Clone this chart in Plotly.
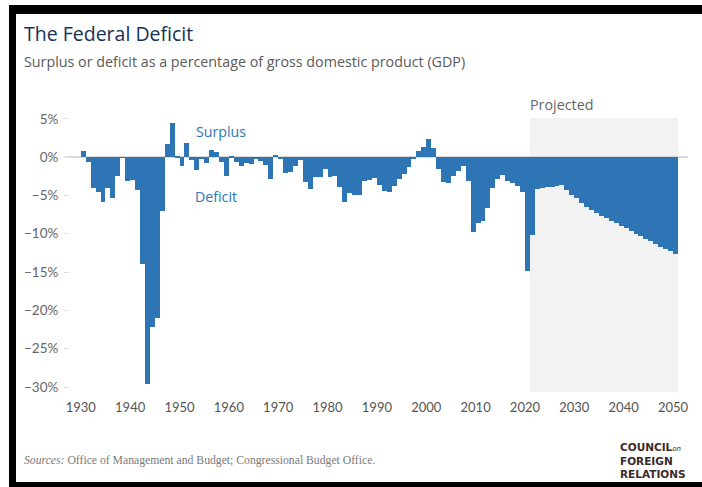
import plotly.graph_objects as go

# ---- data ----
hist_years = list(range(1930, 2021))
hist_values = [
    0.8, -0.6, -4.0, -4.5, -5.8, -4.0, -5.4, -2.5, -0.1, -3.1,   # 1930-1939
    -3.0, -4.3, -13.9, -29.6, -22.2, -21.0, -7.0, 1.7, 4.5, 0.2,  # 1940-1949
    -1.1, 1.9, -0.4, -1.7, -0.3, -0.8, 0.9, 0.7, -0.6, -2.5,      # 1950-1959
    0.1, -0.6, -1.2, -0.8, -0.9, -0.2, -0.5, -1.0, -2.8, 0.3,     # 1960-1969
    -0.3, -2.1, -1.9, -1.1, -0.4, -3.3, -4.1, -2.6, -2.6, -1.6,   # 1970-1979
    -2.6, -2.5, -3.9, -5.9, -4.7, -5.0, -4.9, -3.1, -3.0, -2.7,   # 1980-1989
    -3.7, -4.4, -4.5, -3.8, -2.8, -2.2, -1.3, -0.3, 0.8, 1.3,     # 1990-1999
    2.3, 1.2, -1.5, -3.3, -3.4, -2.5, -1.8, -1.1, -3.1, -9.8,     # 2000-2009
    -8.6, -8.3, -6.6, -4.0, -2.8, -2.4, -3.1, -3.4, -3.8, -4.6,   # 2010-2019
    -14.9,                                                        # 2020
]
proj_years = list(range(2021, 2051))
proj_values = [
    -10.2, -4.2, -4.0, -3.9, -3.9, -3.8, -3.7, -4.3, -4.9, -5.4,
    -6.0, -6.5, -6.9, -7.3, -7.7, -8.0, -8.3, -8.6, -9.0, -9.3,
    -9.6, -10.0, -10.3, -10.7, -11.0, -11.4, -11.7, -12.0, -12.3, -12.7,
]
x_ticks = list(range(1930, 2051, 10))
y_ticks = [5, 0, -5, -10, -15, -20, -25, -30]
y_tick_labels = ["5%", "0%", "\u22125%", "\u221210%", "\u221215%", "\u221220%", "\u221225%", "\u221230%"]

years = hist_years + proj_years
values = hist_values + proj_values

# ---- layout geometry (pixels) ----
W, H = 702, 487
L, R, T, B = 70, 14, 118, 95
PW, PH = W - L - R, H - T - B


def px(x):
    return (x - L) / PW


def py(y):
    return (H - B - y) / PH


BLUE = "#2e75b6"
FONT = "Lato"
FONT2 = "Open Sans"

fig = go.Figure()
fig.add_trace(go.Bar(
    x=years, y=values, width=1, offset=0,
    marker=dict(color=BLUE, line=dict(width=0)),
    hoverinfo="x+y", showlegend=False,
))

shapes = [
    # projected shading
    dict(type="rect", xref="x", yref="paper", x0=2021, x1=2051, y0=0, y1=1,
         fillcolor="#f2f2f2", line=dict(width=0), layer="below"),
    # zero line
    dict(type="line", xref="paper", yref="y", x0=px(65), x1=px(688), y0=0, y1=0,
         line=dict(color="#cfcfcf", width=1.5), layer="below"),
    # black frame
    dict(type="rect", xref="paper", yref="paper", x0=px(9), x1=px(W), y0=py(14), y1=py(5),
         fillcolor="black", line=dict(width=0), layer="above"),
    dict(type="rect", xref="paper", yref="paper", x0=px(9), x1=px(16), y0=py(H), y1=py(5),
         fillcolor="black", line=dict(width=0), layer="above"),
    dict(type="rect", xref="paper", yref="paper", x0=px(9), x1=px(W), y0=py(H), y1=py(482),
         fillcolor="black", line=dict(width=0), layer="above"),
]

ann = []


def add_text(text, x, y, size, color, family=FONT2, xanchor="left", align="left"):
    ann.append(dict(text=text, x=px(x), y=py(y), xref="paper", yref="paper",
                    xanchor=xanchor, yanchor="middle", showarrow=False, align=align,
                    font=dict(size=size, color=color, family=family)))


add_text("The Federal Deficit", 22, 34, 19.5, "#17305a")
add_text("Surplus or deficit as a percentage of gross domestic product (GDP)", 22, 61, 14.3, "#5a5a5a")
add_text("Projected", 528, 105, 14.3, "#666666")
add_text("Surplus", 194, 131, 14.2, BLUE)
add_text("Deficit", 193, 196, 14.2, BLUE)
add_text("<i>Sources:</i> Office of Management and Budget; Congressional Budget Office.",
         22, 460, 11.7, "#7a7a7a", family="Liberation Serif")
add_text("<b>COUNCIL</b><span style='font-size:7px'><i>on</i></span><br>"
         "<b>FOREIGN</b><br><b>RELATIONS</b>",
         618, 460, 10.5, "#3b2a2a", family="DejaVu Sans")

fig.update_layout(
    width=W, height=H,
    margin=dict(l=L, r=R, t=T, b=B, pad=0),
    paper_bgcolor="white", plot_bgcolor="rgba(0,0,0,0)",
    font=dict(family=FONT, color="#666666"),
    bargap=0,
    shapes=shapes,
    annotations=ann,
    xaxis=dict(range=[1927.81, 2053.04], tickmode="array", tickvals=x_ticks,
               ticktext=[str(v) for v in x_ticks], showgrid=False,
               zeroline=False, showline=False, ticks="", fixedrange=True,
               tickfont=dict(size=13, color="#555555"), ticklabelstandoff=6),
    yaxis=dict(range=[-30.65, 5.1], tickmode="array", tickvals=y_ticks,
               ticktext=y_tick_labels, showgrid=False,
               zeroline=False, showline=False, ticks="outside", ticklen=5,
               tickcolor="#e0e0e0", tickwidth=1, fixedrange=True,
               tickfont=dict(size=13.5, color="#666666"), ticklabelstandoff=3),
)

fig.write_html("out.html", config={"displayModeBar": False},
               post_script="document.body.style.margin='0';")
